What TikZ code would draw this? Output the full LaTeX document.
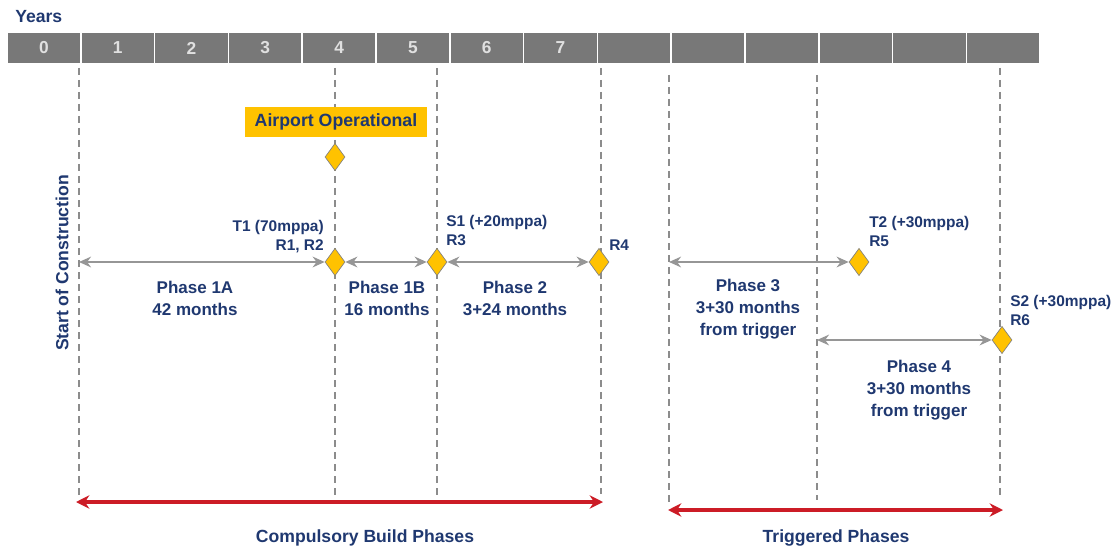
\documentclass[tikz,border=0pt]{standalone}
\usepackage{fontspec}
\setmainfont{Liberation Sans}
\usetikzlibrary{shapes.geometric,arrows.meta}
\definecolor{navy}{RGB}{31,56,112}
\definecolor{bargray}{RGB}{120,120,120}
\definecolor{guidegray}{RGB}{140,140,140}
\definecolor{arrowgray}{RGB}{150,150,150}
\definecolor{gold}{RGB}{255,194,0}
\definecolor{redline}{RGB}{204,28,38}

\tikzset{
  cell/.style={fill=bargray,draw=white,line width=1.2pt},
  yearno/.style={text=white!88!black,font=\fontsize{13}{15}\selectfont\bfseries},
  guide/.style={draw=guidegray,line width=1.3pt,dash pattern=on 5pt off 4pt},
  mile/.style={diamond,fill=gold,draw=gray,line width=0.5pt,minimum width=15pt,minimum height=20.5pt,inner sep=0pt},
  phase/.style={draw=arrowgray,line width=1.8pt,{Stealth[length=9pt,width=8pt]}-{Stealth[length=9pt,width=8pt]}},
  group/.style={draw=redline,line width=2.4pt,{Stealth[length=10pt,width=10pt]}-{Stealth[length=10pt,width=10pt]}},
  lbl/.style={text=navy,inner sep=0pt,font=\fontsize{13.2}{16}\selectfont\bfseries},
  tag/.style={text=navy,inner sep=0pt,font=\fontsize{11.6}{14.5}\selectfont\bfseries},
  phasetxt/.style={text=navy,inner sep=0pt,align=center,font=\fontsize{12.75}{16.5}\selectfont\bfseries},
  opbox/.style={fill=gold,text=navy,minimum width=136pt,minimum height=23pt,inner sep=0pt,font=\fontsize{13.3}{16}\selectfont\bfseries}
}

\begin{document}
\begin{tikzpicture}[x=0.75pt,y=0.75pt,yscale=-1,xscale=1]
\useasboundingbox (0,0) rectangle (1120,549);

% year bar
\node[lbl,anchor=west] (years) at (15,17) {Years};
\foreach \i in {0,...,13}
  \draw[cell] ({7+73.8*\i},32) rectangle ({7+73.8*(\i+1)},64);
\foreach \i in {0,...,7}
  \node[yearno] (yr\i) at ({7+73.8*(\i+0.5)},48) {\i};

% dashed guides
\foreach \x/\t/\b in {79/68/496,335/68/495,437/68/495,601/68/494,669/75/505,817/75/500,1000/68/497}
  \draw[guide] (\x,\t) -- (\x,\b);

% milestones
\node[opbox] (opr) at (336,122) {Airport Operational};
\node[mile] (ao) at (335,157) {};
\node[mile] (t1) at (335,262) {};
\node[mile] (s1) at (437,262) {};
\node[mile] (r4) at (599,262) {};
\node[mile] (t2) at (859,262) {};
\node[mile] (s2) at (1002,340) {};

\node[tag,anchor=north east,align=right] (t1txt) at (324,220) {T1 (70mppa)\\R1, R2};
\node[tag,anchor=north west,align=left] (s1txt) at (446,215) {S1 (+20mppa)\\R3};
\node[tag,anchor=west] (r4txt) at (609,245) {R4};
\node[tag,anchor=north west,align=left] (t2txt) at (869,216) {T2 (+30mppa)\\R5};
\node[tag,anchor=north west,align=left] (s2txt) at (1010,295) {S2 (+30mppa)\\R6};

% phases
\coordinate (soc) at (79,262);
\coordinate (trig3) at (669,262);
\coordinate (trig4) at (817,340);
\draw[phase] (soc) -- (t1);
\draw[phase] (t1) -- (s1);
\draw[phase] (s1) -- (r4);
\draw[phase] (trig3) -- (t2);
\draw[phase] (trig4) -- (s2);

\node[phasetxt] (ph1a) at (195,298) {Phase 1A\\42 months};
\node[phasetxt] (ph1b) at (387,298) {Phase 1B\\16 months};
\node[phasetxt] (ph2) at (515,298) {Phase 2\\3+24 months};
\node[phasetxt] (ph3) at (748,309) {Phase 3\\3+30 months\\from trigger};
\node[phasetxt] (ph4) at (919,390) {Phase 4\\3+30 months\\from trigger};

\node[lbl,rotate=90] (start) at (62,263) {Start of Construction};

% build groups
\coordinate (cb1) at (76,502);
\coordinate (cb2) at (603,502);
\coordinate (tr1) at (668,510);
\coordinate (tr2) at (1003,510);
\draw[group] (cb1) -- (cb2);
\draw[group] (tr1) -- (tr2);
\node[lbl] (cbp) at (365,538) {Compulsory Build Phases};
\node[lbl] (trp) at (836,538) {Triggered Phases};
\end{tikzpicture}
\end{document}
